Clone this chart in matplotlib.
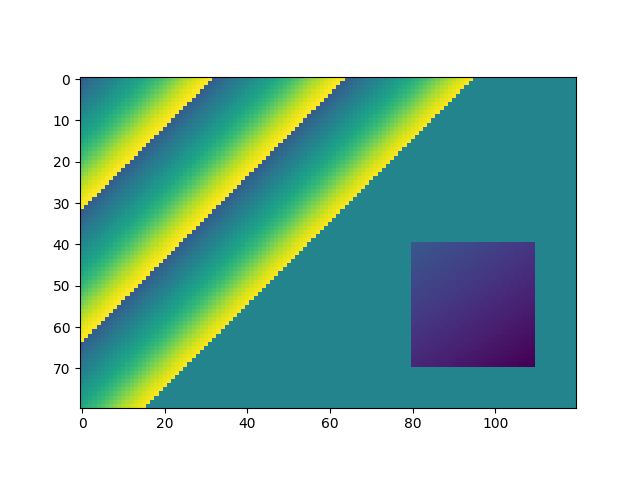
# wave pattern with a dark square
import numpy as np
import matplotlib
matplotlib.use("Agg")
import matplotlib.pyplot as plt

n_rows = 80
n_cols = 120
background = 0.45

# one band of the stripes, blue edge to yellow edge
wave = [0.30, 0.32, 0.34, 0.36, 0.38, 0.40, 0.42, 0.44,
        0.46, 0.48, 0.50, 0.52, 0.54, 0.56, 0.58, 0.60,
        0.63, 0.65, 0.67, 0.70, 0.73, 0.76, 0.79, 0.82,
        0.85, 0.88, 0.90, 0.93, 0.95, 0.97, 0.99, 1.00]
last_cell = 95

# square patch, contribution of each row and column
square_top = 40
square_left = 80
square_rows = [0.270, 0.265, 0.259, 0.254, 0.248, 0.243, 0.237, 0.232, 0.226, 0.221,
               0.215, 0.210, 0.204, 0.199, 0.193, 0.188, 0.182, 0.177, 0.171, 0.166,
               0.160, 0.155, 0.149, 0.144, 0.138, 0.133, 0.127, 0.122, 0.116, 0.110]
square_cols = [0.000, -0.004, -0.008, -0.011, -0.015, -0.019, -0.023, -0.027, -0.030, -0.034,
               -0.038, -0.042, -0.046, -0.049, -0.053, -0.057, -0.061, -0.065, -0.068, -0.072,
               -0.076, -0.080, -0.084, -0.087, -0.091, -0.095, -0.099, -0.103, -0.106, -0.110]

grid = np.full((n_rows, n_cols), background)
for r in range(n_rows):
    for c in range(n_cols):
        if r + c < last_cell:
            grid[r, c] = wave[(r + c) % len(wave)]

for i, rv in enumerate(square_rows):
    for j, cv in enumerate(square_cols):
        grid[square_top + i, square_left + j] = rv + cv

plt.imshow(grid, vmin=0, vmax=1, cmap="viridis")
plt.savefig("out.png")
